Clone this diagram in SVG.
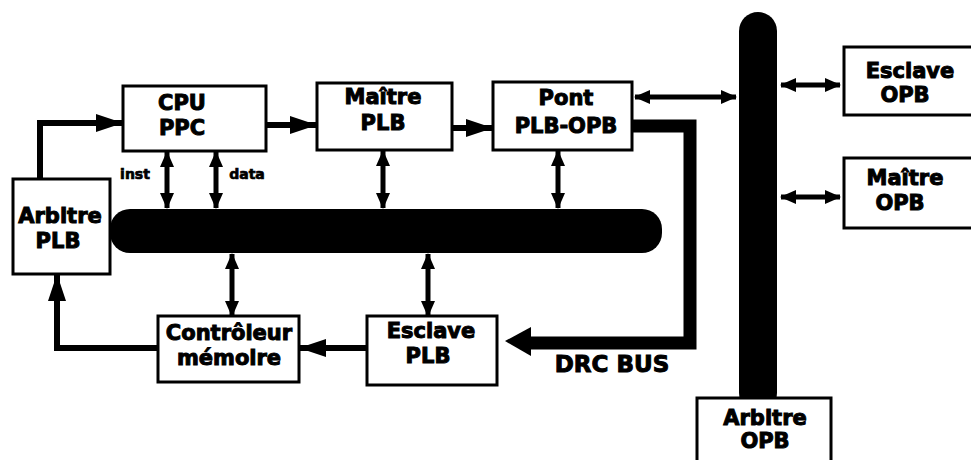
<svg xmlns="http://www.w3.org/2000/svg" width="971" height="460" viewBox="0 0 971 460">
<style>
.box{fill:#fff;stroke:#000;stroke-width:3}
.t{font-family:"DejaVu Sans",sans-serif;font-weight:bold;font-size:21px;fill:#000;stroke:#000;stroke-width:1;text-anchor:middle}
.s{font-family:"DejaVu Sans",sans-serif;font-weight:bold;font-size:14px;fill:#000;stroke:#000;stroke-width:0.7;text-anchor:middle}
.ln{fill:none;stroke:#000;stroke-width:5}
.dl{fill:none;stroke:#000;stroke-width:5;marker-start:url(#dh);marker-end:url(#dh)}
.ar{fill:none;stroke:#000;stroke-width:6;marker-end:url(#big)}
</style>
<defs>
<marker id="big" markerUnits="userSpaceOnUse" markerWidth="28" markerHeight="20" refX="26" refY="10" orient="auto" viewBox="0 0 28 20"><path d="M0,1 L27,10 L0,19 z" fill="#000"/></marker>
<marker id="dh" markerUnits="userSpaceOnUse" markerWidth="16" markerHeight="16" refX="15" refY="8" orient="auto-start-reverse" viewBox="0 0 16 16"><path d="M0,1 L16,8 L0,15 z" fill="#000"/></marker>
</defs>

<g id="buses">
<rect id="plb-bus" x="110" y="209" width="552" height="44" rx="20" fill="#000"/>
<rect id="opb-bus" x="739" y="12" width="38" height="400" rx="19" fill="#000"/>
</g>

<g id="connectors">
<polyline class="ar" points="40,179 40,123 122,123"/>
<line class="ar" x1="263" y1="125" x2="316" y2="125"/>
<line class="ar" x1="452" y1="128" x2="492" y2="128"/>
<line class="dl" x1="167" y1="152" x2="167" y2="208"/>
<line class="dl" x1="216" y1="152" x2="216" y2="208"/>
<line class="dl" x1="383" y1="151" x2="383" y2="208"/>
<line class="dl" x1="558" y1="151" x2="558" y2="208"/>
<line class="dl" x1="232" y1="254" x2="232" y2="316"/>
<line class="dl" x1="428" y1="254" x2="428" y2="316"/>
<line class="dl" x1="635" y1="97" x2="736" y2="97"/>
<line class="dl" x1="781" y1="85" x2="840" y2="85"/>
<line class="dl" x1="781" y1="197" x2="840" y2="197"/>
<line class="ar" x1="368" y1="348" x2="300" y2="348"/>
<polyline class="ar" points="157,348 57,348 57,275"/>
<polyline fill="none" stroke="#000" stroke-width="13" points="632,126 690,126 690,343 528,343"/>
<polygon points="505,341 531,327 531,356" fill="#000"/>
</g>

<g id="cpu"><rect class="box" x="123" y="86" width="143" height="65"/><text class="t" x="182" y="110">CPU</text><text class="t" x="182" y="135">PPC</text></g>
<text class="s" x="135" y="179">inst</text>
<text class="s" x="247" y="179">data</text>
<g id="maitre-plb"><rect class="box" x="317" y="83" width="135" height="67"/><text class="t" x="383" y="104">Maître</text><text class="t" x="383" y="130">PLB</text></g>
<g id="pont"><rect class="box" x="493" y="82" width="139" height="68"/><text class="t" x="566" y="105">Pont</text><text class="t" x="566" y="133">PLB-OPB</text></g>
<g id="arbitre-plb"><rect class="box" x="13" y="179" width="97" height="95"/><text class="t" x="60" y="223">Arbitre</text><text class="t" x="58" y="248">PLB</text></g>
<g id="controleur"><rect class="box" x="158" y="316" width="141" height="66"/><text class="t" x="229" y="340">Contrôleur</text><text class="t" x="229" y="365">mémoire</text></g>
<g id="esclave-plb"><rect class="box" x="367" y="316" width="130" height="69"/><text class="t" x="431" y="338">Esclave</text><text class="t" x="428" y="363">PLB</text></g>
<text class="t" x="612" y="372" style="font-size:23px">DRC BUS</text>
<g id="arbitre-opb"><rect class="box" x="697" y="398" width="134" height="75"/><text class="t" x="765" y="425">Arbitre</text><text class="t" x="765" y="448">OPB</text></g>
<g id="esclave-opb"><rect class="box" x="844" y="47" width="140" height="68"/><text class="t" x="910" y="78">Esclave</text><text class="t" x="905" y="102">OPB</text></g>
<g id="maitre-opb"><rect class="box" x="844" y="158" width="140" height="70"/><text class="t" x="905" y="185">Maître</text><text class="t" x="900" y="210">OPB</text></g>
</svg>
